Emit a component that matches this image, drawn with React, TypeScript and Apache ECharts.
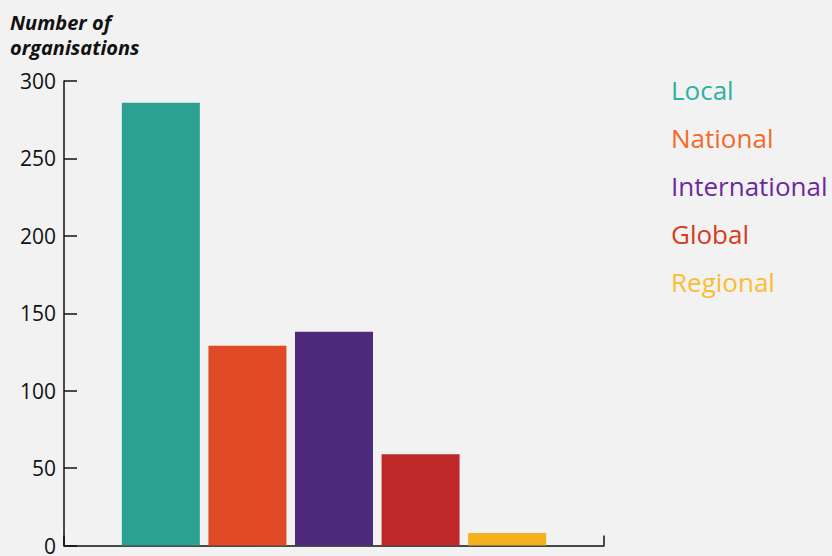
import React, { useEffect, useRef } from "react";
import * as echarts from "echarts";

const seriesNames = ["Local", "National", "International", "Global", "Regional"];
const seriesValues = [286, 129, 138, 59, 8];
const barColors = ["#2ca091", "#e04a27", "#4e2a7d", "#be2828", "#f3b11d"];
const legendColors = ["#2bb3a3", "#f26a2a", "#6a2a9e", "#d33d1d", "#f7bd35"];
const yTicks = { min: 0, max: 300, interval: 50 };

export default function App() {
  const ref = useRef<HTMLDivElement>(null);
  useEffect(() => {
    if (!ref.current) return;
    const chart = echarts.init(ref.current, undefined, { renderer: "svg" });
    const font = "'Open Sans', 'Noto Sans', sans-serif";
    chart.setOption({
      animation: false,
      backgroundColor: "#f2f2f2",
      title: {
        text: "Number of\norganisations",
        left: 5,
        top: 5,
        textStyle: {
          fontFamily: font,
          fontStyle: "italic",
          fontWeight: "bold",
          fontSize: 20,
          lineHeight: 25,
          color: "#111",
        },
      },
      legend: {
        orient: "vertical",
        left: 666,
        top: 72,
        icon: "none",
        itemWidth: 0,
        itemHeight: 26,
        itemGap: 22,
        selectedMode: false,
        textStyle: { fontFamily: font, fontSize: 26, padding: [0, 0, 0, -5] },
        data: seriesNames.map((n, i) => ({
          name: n,
          textStyle: { color: legendColors[i] },
        })),
      },
      grid: { left: 64, right: 228, top: 81, bottom: 8, containLabel: false },
      xAxis: {
        type: "category",
        data: [""],
        axisLine: { lineStyle: { color: "#111", width: 1.5 } },
        axisTick: { show: true, inside: true, length: 10, lineStyle: { color: "#111", width: 1.5 } },
        axisLabel: { show: false },
      },
      yAxis: {
        type: "value",
        min: yTicks.min,
        max: yTicks.max,
        interval: yTicks.interval,
        splitLine: { show: false },
        axisLine: { show: true, lineStyle: { color: "#111", width: 1.5 } },
        axisTick: { show: true, inside: true, length: 13, lineStyle: { color: "#111", width: 1.5 } },
        axisLabel: { fontFamily: font, fontSize: 21, color: "#111", margin: 8, padding: [2, 0, 0, 0] },
      },
      series: seriesNames.map((n, i) => ({
        name: n,
        type: "bar",
        data: [seriesValues[i]],
        barWidth: 78,
        barGap: "11%",
        itemStyle: { color: barColors[i] },
      })),
    });
    return () => chart.dispose();
  }, []);
  return (
    <div
      ref={ref}
      style={{ position: "absolute", left: 0, top: 0, width: 832, height: 556 }}
    />
  );
}
